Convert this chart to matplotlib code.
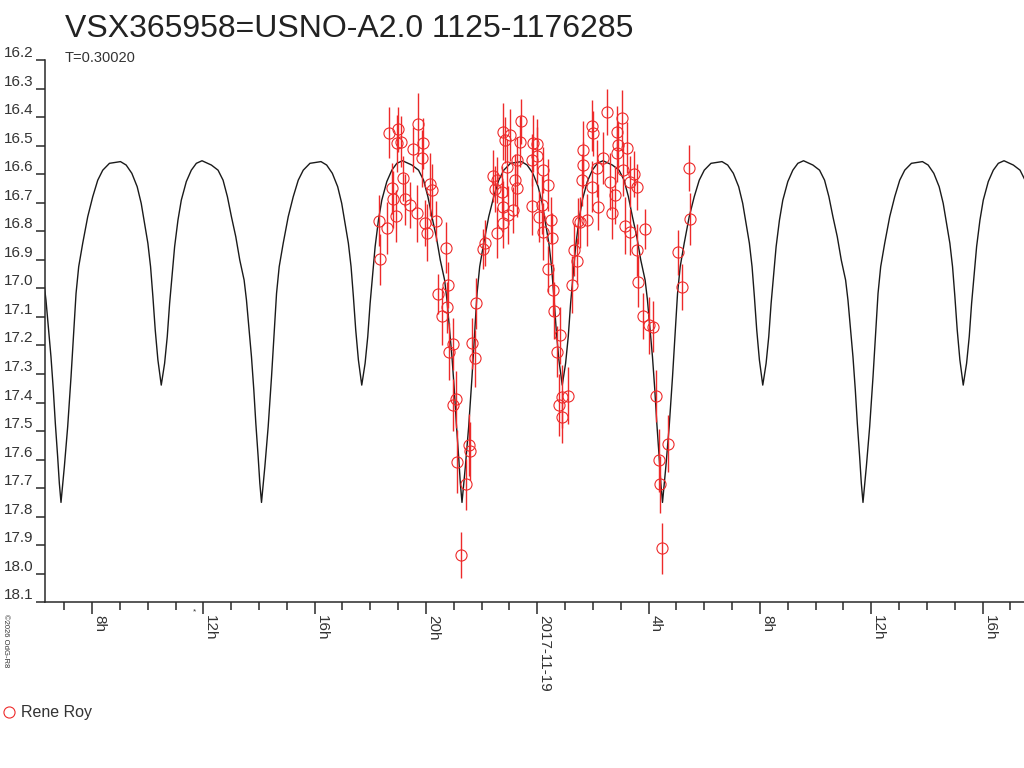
import numpy as np
import pandas as pd
import matplotlib
matplotlib.use("Agg")
import matplotlib.dates as mdates
from matplotlib import pyplot as plt
from matplotlib.lines import Line2D
from matplotlib.ticker import MultipleLocator, FormatStrFormatter, FuncFormatter
from matplotlib.transforms import blended_transform_factory

plt.rcParams['font.family'] = ['Liberation Sans', 'DejaVu Sans']

title = "VSX365958=USNO-A2.0 1125-1176285"
period_days = 0.30020
observer = "Rene Roy"
base_date = pd.Timestamp("2017-11-19 00:00")
epoch_hours = -17.115   # primary minimum, hours from base_date

# one cycle of the model light curve (phase from primary minimum, magnitude)
model_phase = [0, 0.0167, 0.0333, 0.05, 0.0633, 0.075, 0.0883, 0.1083, 0.1333, 0.1583,
               0.1833, 0.2083, 0.2417, 0.2967, 0.325, 0.3533, 0.38, 0.4, 0.4167, 0.4333,
               0.4467, 0.4583, 0.47, 0.4833, 0.5, 0.5167, 0.53, 0.5417, 0.555, 0.5667,
               0.5833, 0.6, 0.625, 0.65, 0.675, 0.7033, 0.75, 0.7833, 0.8083, 0.83,
               0.85, 0.8717, 0.8917, 0.9133, 0.925, 0.9367, 0.95, 0.9617, 0.9717, 0.9833,
               0.9917, 1.0]
model_mag = [17.750, 17.625, 17.485, 17.310, 17.158, 17.018, 16.924, 16.842, 16.749, 16.679,
             16.621, 16.586, 16.562, 16.556, 16.568, 16.597, 16.644, 16.702, 16.772, 16.842,
             16.924, 17.029, 17.146, 17.251, 17.339, 17.263, 17.169, 17.053, 16.948, 16.854,
             16.761, 16.691, 16.626, 16.586, 16.562, 16.553, 16.568, 16.586, 16.621, 16.679,
             16.749, 16.819, 16.901, 16.971, 17.041, 17.134, 17.240, 17.356, 17.473, 17.590,
             17.683, 17.748]

# observations: hours from base_date, magnitude, error
obs_hours = [-5.32, -5.00, -5.05, -4.91, -4.28, -4.10, -4.46, -4.15, -4.82, -5.23,
             -5.17, -4.75, -4.57, -4.33, -5.08, -5.68, -5.41, -4.04, -3.97, -3.64,
             -3.86, -3.79, -3.28, -5.65, -3.56, -3.20, -3.23, -3.44,
             -0.59, -1.24, -0.98, -1.16, -0.62, -0.14, -0.20, -0.74, -1.10, -1.60,
             -1.44, -0.80, -0.74, -1.52, -1.28, -0.20, -1.22, -0.86, -1.04, -1.24,
             -1.46, -1.88, -1.96, -2.20,
             -0.02, -0.02, 0.22, 0.37, 0.16, 0.06, 0.49, 0.22, 0.52, 0.37, 0.58, 0.61,
             2.49, 3.05, 1.98, 2.01, 2.85, 1.65, 2.91, 3.21, 2.85, 1.65,
             2.37, 2.13, 3.09, 3.49, 1.62, 2.61, 1.96, 3.57, 3.33, 2.79,
             2.19, 2.67, 1.78, 1.45, 1.53, 3.15, 3.33, 3.87, 1.33, 1.42,
             3.57, 1.26, 3.63, 3.81, 4.00, 4.17,
             5.45, 5.50, 5.07, 5.19,
             -3.04, -3.16, -2.36, -2.24, -2.93, -3.02, -2.45, -2.42, -2.90, -2.57, -2.73,
             0.82, 0.70, 0.88, 1.09, 0.78, 0.90, 4.25, 4.71, 4.37, 4.42, 4.49]
obs_mag = [16.455, 16.443, 16.492, 16.486, 16.425, 16.492, 16.513, 16.544, 16.615, 16.650,
           16.688, 16.688, 16.708, 16.737, 16.747, 16.763, 16.789, 16.772, 16.805, 16.764,
           16.636, 16.656, 16.858, 16.898, 17.020, 16.988, 17.067, 17.097,
           16.415, 16.451, 16.463, 16.480, 16.486, 16.492, 16.550, 16.550, 16.576, 16.606,
           16.620, 16.620, 16.650, 16.653, 16.661, 16.712, 16.714, 16.726, 16.743, 16.770,
           16.805, 16.840, 16.863, 17.053,
           16.495, 16.535, 16.585, 16.638, 16.708, 16.749, 16.761, 16.802, 16.825, 16.932,
           17.006, 17.079,
           16.383, 16.404, 16.430, 16.457, 16.451, 16.515, 16.498, 16.507, 16.527, 16.568,
           16.544, 16.579, 16.585, 16.600, 16.620, 16.626, 16.644, 16.644, 16.626, 16.673,
           16.714, 16.737, 16.761, 16.764, 16.769, 16.781, 16.802, 16.792, 16.866, 16.904,
           16.866, 16.988, 16.977, 17.096, 17.129, 17.134,
           16.579, 16.757, 16.874, 16.996,
           17.195, 17.222, 17.193, 17.245, 17.389, 17.409, 17.549, 17.570, 17.608, 17.687, 17.935,
           17.164, 17.222, 17.380, 17.377, 17.409, 17.452, 17.377, 17.545, 17.602, 17.686, 17.911]
obs_err = [0.09, 0.08, 0.10, 0.09, 0.11, 0.09, 0.08, 0.10, 0.08, 0.09,
           0.10, 0.09, 0.08, 0.10, 0.09, 0.09, 0.09, 0.08, 0.10, 0.07,
           0.11, 0.09, 0.09, 0.09, 0.07, 0.08, 0.09, 0.10,
           0.08, 0.10, 0.09, 0.08, 0.09, 0.10, 0.09, 0.08, 0.10, 0.09,
           0.08, 0.09, 0.10, 0.08, 0.09, 0.10, 0.09, 0.08, 0.10, 0.09,
           0.09, 0.08, 0.07, 0.09,
           0.09, 0.10, 0.08, 0.09, 0.10, 0.09, 0.08, 0.10, 0.09, 0.08, 0.09, 0.10,
           0.08, 0.10, 0.09, 0.08, 0.09, 0.10, 0.08, 0.09, 0.10, 0.08,
           0.09, 0.10, 0.09, 0.08, 0.09, 0.10, 0.09, 0.08, 0.09, 0.10,
           0.08, 0.09, 0.09, 0.08, 0.09, 0.10, 0.08, 0.07, 0.09, 0.08,
           0.09, 0.10, 0.09, 0.08, 0.10, 0.09,
           0.08, 0.09, 0.08, 0.08,
           0.09, 0.10, 0.09, 0.10, 0.10, 0.09, 0.11, 0.10, 0.11, 0.09, 0.08,
           0.10, 0.09, 0.11, 0.10, 0.11, 0.09, 0.09, 0.10, 0.11, 0.10, 0.09]

# x range shown (hours from base_date)
x_start_hours = -17.69
x_end_hours = 17.49

red = '#ee2a2a'
axis_col = '#2a2a2a'

# tile the model over the cycles in view
phase = np.array(model_phase)
mag = np.array(model_mag)
cycles = np.arange(-1, 6)
model_hours = np.concatenate([epoch_hours + (k + phase) * period_days * 24 for k in cycles])
model_mags = np.tile(mag, len(cycles))
model_t = base_date + pd.to_timedelta(model_hours, unit='h')
obs_t = base_date + pd.to_timedelta(np.array(obs_hours), unit='h')

fig = plt.figure(figsize=(10.24, 7.68), dpi=100)
ax = fig.add_axes([45 / 1024, 1 - 602.3 / 768, 1 - 45 / 1024, (602.3 - 60) / 768])

ax.plot(model_t, model_mags, color='#1a1a1a', lw=1.0, zorder=2)
ax.errorbar(obs_t, obs_mag, yerr=obs_err, fmt='o', ms=8, mfc='none', mec=red,
            mew=0.8, ecolor=red, elinewidth=1.0, capsize=0, zorder=3)

ax.set_xlim(base_date + pd.Timedelta(hours=x_start_hours),
            base_date + pd.Timedelta(hours=x_end_hours))
ax.set_ylim(18.1, 16.2)

# axes styling
for s in ['top', 'right']:
    ax.spines[s].set_visible(False)
for s in ['left', 'bottom']:
    ax.spines[s].set_color(axis_col)
    ax.spines[s].set_linewidth(1.1)

ax.yaxis.set_major_locator(MultipleLocator(0.1))
ax.yaxis.set_major_formatter(FormatStrFormatter('%.1f'))
ax.tick_params(axis='y', direction='out', length=6.5, width=1.1, color=axis_col,
               labelsize=11, labelcolor='#333333', pad=2)


def hour_label(x, pos):
    d = mdates.num2date(x)
    if d.hour == 0:
        return d.strftime('%Y-%m-%d')
    return '%dh' % d.hour


ax.xaxis.set_major_locator(mdates.HourLocator(byhour=range(0, 24, 4)))
ax.xaxis.set_minor_locator(mdates.HourLocator())
ax.xaxis.set_major_formatter(FuncFormatter(hour_label))
ax.tick_params(axis='x', which='major', direction='out', length=8.5, width=1.1,
               color=axis_col, labelsize=11, labelcolor='#333333', pad=1)
ax.tick_params(axis='x', which='minor', direction='out', length=5.8, width=1.1,
               color=axis_col)
plt.setp(ax.get_xticklabels(), rotation=-90, ha='left', va='top')
plt.setp(ax.get_yticklabels(), va='bottom')

# little marker just under the axis near 12h
trans = blended_transform_factory(ax.transData, ax.transAxes)
ax.text(base_date + pd.Timedelta(hours=-12.3), -0.012, '*', transform=trans,
        fontsize=6, color='#333333', ha='center', va='top')

fig.text(65 / 1024, 1 - 29 / 768, title, fontsize=23, color='#222222', va='center')
fig.text(65 / 1024, 1 - 58 / 768, 'T=%.5f' % period_days, fontsize=10.5,
         color='#333333', va='center')
fig.text(2 / 1024, 1 - 614 / 768, '\u00a92026 OdG-R8', fontsize=5.5, rotation=-90,
         color='#333333', ha='left', va='top')

handle = Line2D([], [], marker='o', ls='none', ms=8, mfc='none', mec=red, mew=0.8)
fig.legend(handles=[handle], labels=[observer], loc='center left',
           bbox_to_anchor=(0, 1 - 713 / 768), frameon=False, fontsize=11.5,
           handlelength=0.9, handletextpad=0.3, borderpad=0, borderaxespad=0.1,
           labelcolor='#333333')

fig.savefig('out.png', dpi=100)
